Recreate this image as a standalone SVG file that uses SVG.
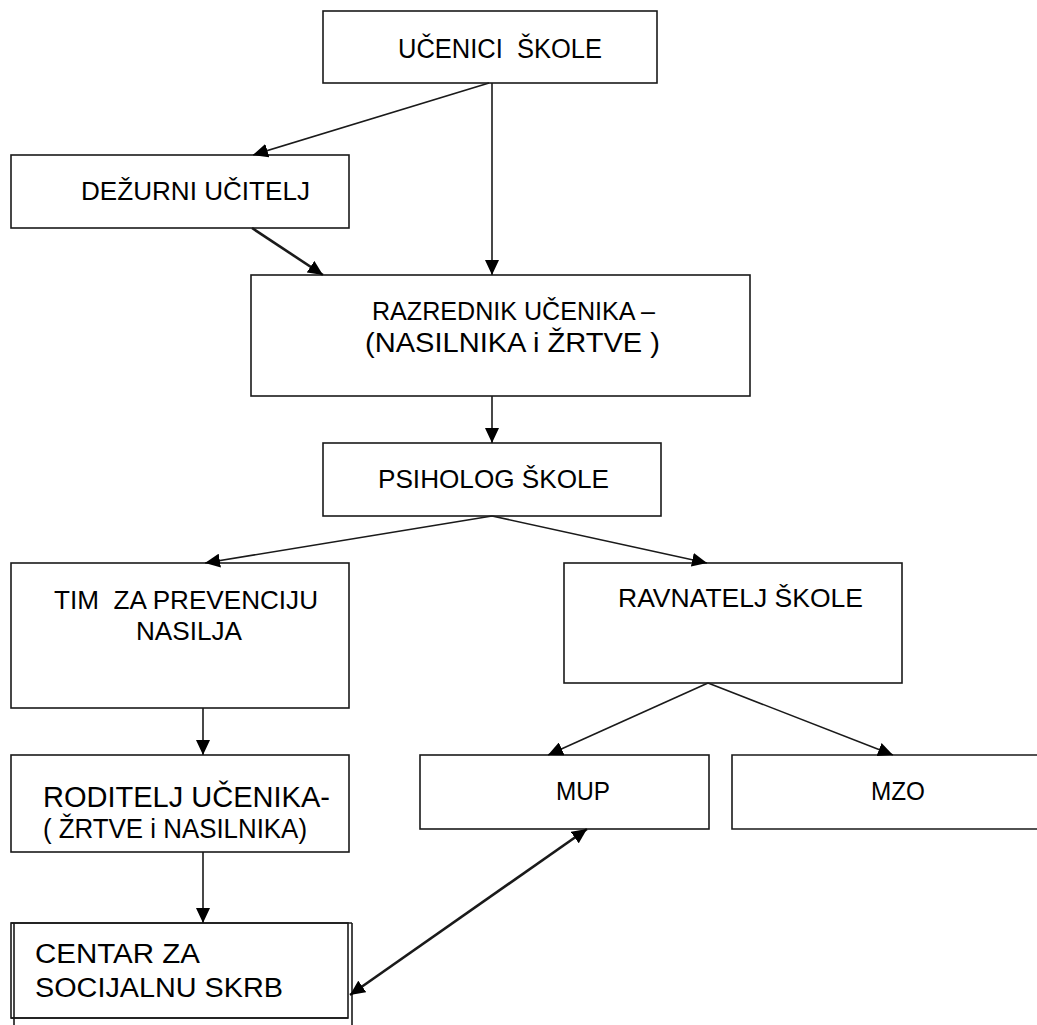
<svg xmlns="http://www.w3.org/2000/svg" width="1037" height="1025" viewBox="0 0 1037 1025">
<style>
.box{fill:#fff;stroke:#1a1a1a;stroke-width:1.6}
.edge{fill:none;stroke:#1a1a1a;stroke-width:1.6}
.thick{stroke-width:2.6}
text{font-family:"Liberation Sans",Arial,sans-serif;fill:#000;white-space:pre}
</style>
<defs>
<marker id="ah" markerUnits="userSpaceOnUse" markerWidth="16" markerHeight="14" viewBox="0 0 16 14" refX="15" refY="7" orient="auto-start-reverse">
<path d="M0,0 L15,7 L0,14 z" fill="#000"/>
</marker>
</defs>
<g id="n-ucenici"><rect class="box" x="323" y="11" width="334" height="72"/><text x="398" y="58" font-size="27" textLength="204" lengthAdjust="spacingAndGlyphs" xml:space="preserve">UČENICI  ŠKOLE</text></g>
<g id="n-dezurni"><rect class="box" x="11" y="155" width="338" height="73"/><text x="81" y="200" font-size="26" textLength="229" lengthAdjust="spacingAndGlyphs">DEŽURNI UČITELJ</text></g>
<g id="n-razrednik"><rect class="box" x="251" y="275" width="499" height="121"/><text x="372" y="320" font-size="25" textLength="283" lengthAdjust="spacingAndGlyphs">RAZREDNIK UČENIKA –</text><text x="365" y="352" font-size="28" textLength="295" lengthAdjust="spacingAndGlyphs" xml:space="preserve">(NASILNIKA i ŽRTVE )</text></g>
<g id="n-psiholog"><rect class="box" x="323" y="443" width="338" height="73"/><text x="378" y="488" font-size="26" textLength="231" lengthAdjust="spacingAndGlyphs">PSIHOLOG ŠKOLE</text></g>
<g id="n-tim"><rect class="box" x="11" y="563" width="338" height="145"/><text x="54" y="609" font-size="26" textLength="264" lengthAdjust="spacingAndGlyphs" xml:space="preserve">TIM  ZA PREVENCIJU</text><text x="136" y="640" font-size="26" textLength="106" lengthAdjust="spacingAndGlyphs">NASILJA</text></g>
<g id="n-ravnatelj"><rect class="box" x="564" y="563" width="338" height="120"/><text x="618" y="607" font-size="26" textLength="245" lengthAdjust="spacingAndGlyphs">RAVNATELJ ŠKOLE</text></g>
<g id="n-mup"><rect class="box" x="420" y="755" width="289" height="74"/><text x="556" y="800" font-size="25" textLength="54" lengthAdjust="spacingAndGlyphs">MUP</text></g>
<g id="n-mzo"><path class="edge" d="M1037,755 H732 V829 H1037"/><text x="871" y="800" font-size="25" textLength="54" lengthAdjust="spacingAndGlyphs">MZO</text></g>
<g id="n-roditelj"><rect class="box" x="11" y="755" width="338" height="97"/><text x="43" y="807" font-size="29" textLength="287" lengthAdjust="spacingAndGlyphs">RODITELJ UČENIKA-</text><text x="43" y="838" font-size="28" textLength="264" lengthAdjust="spacingAndGlyphs" xml:space="preserve">( ŽRTVE i NASILNIKA)</text></g>
<g id="n-centar"><rect class="box" x="11" y="923" width="337" height="95" stroke="#777"/><path class="edge" d="M11,923 H352 M14,923 V1025 M352,923 V1025 M11,1018 H348"/><text x="35" y="963" font-size="27" textLength="165" lengthAdjust="spacingAndGlyphs">CENTAR ZA</text><text x="35" y="997" font-size="27" textLength="248" lengthAdjust="spacingAndGlyphs">SOCIJALNU SKRB</text></g>
<g id="connectors">
<line class="edge" x1="489" y1="83" x2="253" y2="155" marker-end="url(#ah)"/>
<line class="edge" x1="492" y1="83" x2="492" y2="275" marker-end="url(#ah)"/>
<line class="edge thick" x1="252" y1="228" x2="323" y2="275" marker-end="url(#ah)"/>
<line class="edge" x1="492" y1="396" x2="492" y2="443" marker-end="url(#ah)"/>
<line class="edge" x1="492" y1="516" x2="205" y2="563" marker-end="url(#ah)"/>
<line class="edge" x1="492" y1="516" x2="707" y2="563" marker-end="url(#ah)"/>
<line class="edge" x1="203" y1="708" x2="203" y2="755" marker-end="url(#ah)"/>
<line class="edge" x1="203" y1="852" x2="203" y2="923" marker-end="url(#ah)"/>
<line class="edge" x1="708" y1="683" x2="548" y2="755" marker-end="url(#ah)"/>
<line class="edge" x1="708" y1="683" x2="893" y2="755" stroke-width="2.1" marker-end="url(#ah)"/>
<line class="edge thick" x1="587" y1="829" x2="350" y2="995" marker-start="url(#ah)" marker-end="url(#ah)"/>
</g>
</svg>
